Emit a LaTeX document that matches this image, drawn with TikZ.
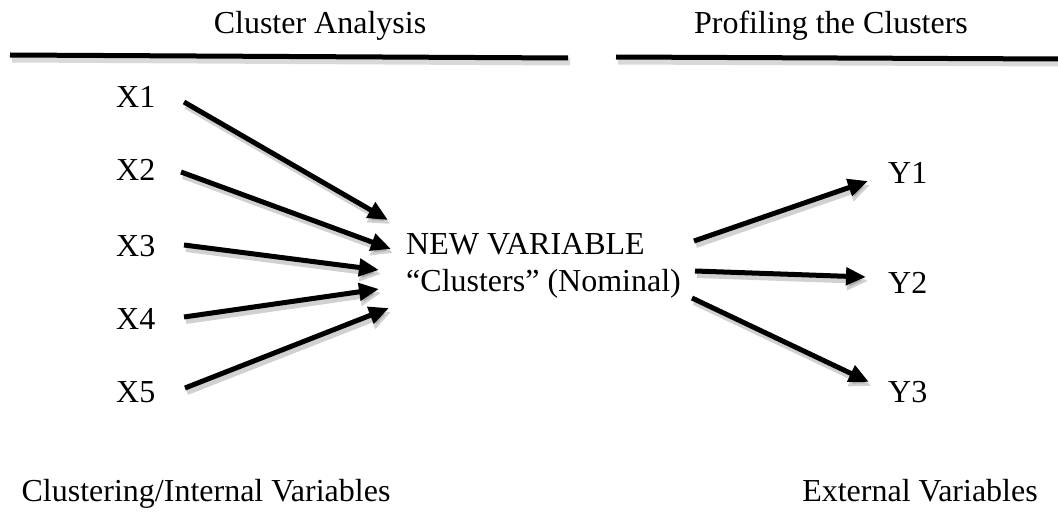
\documentclass[tikz,border=0pt]{standalone}
\usepackage{fontspec}
\setmainfont{Liberation Serif}
\usetikzlibrary{arrows.meta}
\tikzset{
  lbl/.style={inner sep=0pt, font=\fontsize{32}{38}\selectfont, anchor=base west},
  ttl/.style={inner sep=0pt, font=\fontsize{32}{38}\selectfont, anchor=base},
  conn/.style={line width=5pt, -{Triangle[length=20pt,width=17pt]}},
  shade/.style={line width=6pt, draw=black, opacity=0.18, -{Triangle[length=21pt,width=19pt]}},
  rule/.style={line width=5pt},
  ruleshade/.style={line width=7pt, draw=black, opacity=0.15}
}
\begin{document}
\begin{tikzpicture}[x=1pt,y=-1pt]
\useasboundingbox (0,0) rectangle (1058,516);

% titles
\node[ttl] (t1) at (320,34) {Cluster Analysis};
\node[ttl] (t2) at (831,34) {Profiling the Clusters};

% rules
\coordinate (r1a) at (10,55);
\coordinate (r1b) at (568,58);
\coordinate (r2a) at (616,57);
\coordinate (r2b) at (1058,59);
\draw[ruleshade] ([shift={(2,4)}]r1a) -- ([shift={(2,4)}]r1b);
\draw[ruleshade] ([shift={(2,4)}]r2a) -- ([shift={(2,4)}]r2b);
\draw[rule] (r1a) -- (r1b);
\draw[rule] (r2a) -- (r2b);

% left labels
\node[lbl] (x1) at (116,108) {X1};
\node[lbl] (x2) at (116,181) {X2};
\node[lbl] (x3) at (116,256) {X3};
\node[lbl] (x4) at (116,329) {X4};
\node[lbl] (x5) at (116,402) {X5};

% centre
\node[lbl] (nv) at (406,254) {NEW VARIABLE};
\node[lbl] (cl) at (406,291) {``Clusters'' (Nominal)};

% right labels
\node[lbl] (y1) at (888,183) {Y1};
\node[lbl] (y2) at (888,293) {Y2};
\node[lbl] (y3) at (888,402) {Y3};

% bottom
\node[ttl] (b1) at (206,501) {Clustering/Internal Variables};
\node[ttl] (b2) at (920,501) {External Variables};

% arrow end points
\coordinate (s1) at (184,102);
\coordinate (e1) at (388,220);
\coordinate (s2) at (181,172);
\coordinate (e2) at (391,249);
\coordinate (s3) at (184,245);
\coordinate (e3) at (379,270);
\coordinate (s4) at (184,317);
\coordinate (e4) at (379,289);
\coordinate (s5) at (185,388);
\coordinate (e5) at (389,308);
\coordinate (s6) at (694,241);
\coordinate (e6) at (868,181);
\coordinate (s7) at (695,271);
\coordinate (e7) at (866,277);
\coordinate (s8) at (692,298);
\coordinate (e8) at (869,382);

\foreach \a/\b in {s1/e1,s2/e2,s3/e3,s4/e4,s5/e5,s6/e6,s7/e7,s8/e8}{
  \draw[shade] ([shift={(2,4)}]\a) -- ([shift={(2,4)}]\b);
}
\foreach \a/\b in {s1/e1,s2/e2,s3/e3,s4/e4,s5/e5,s6/e6,s7/e7,s8/e8}{
  \draw[conn] (\a) -- (\b);
}
\end{tikzpicture}
\end{document}
